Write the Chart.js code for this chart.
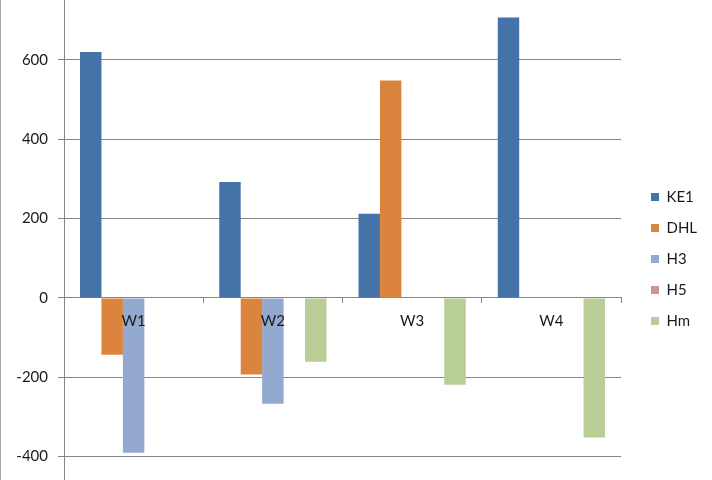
<!DOCTYPE html>
<html>
<head>
<meta charset="utf-8">
<script src="https://cdn.jsdelivr.net/npm/chart.js@4/dist/chart.umd.min.js"></script>
<style>
  html, body { margin: 0; padding: 0; background: #fff; }
  #wrap { width: 712px; height: 480px; position: relative; }
</style>
</head>
<body>
<div id="wrap"><canvas id="weeksChart"></canvas></div>
<script>
// Data
const weeks = ['W1', 'W2', 'W3', 'W4'];
const ke1 = [620, 292, 212, 707];
const dhl = [-143, -193, 548, 0];
const h3 = [-390, -267, 0, 0];
const h5 = [0, 0, 0, 0];
const hm = [0, -161, -219, -352];
const yTicks = [-400, -200, 0, 200, 400, 600];

const gridGrey = '#868686';
const fontFamily = "Lato, 'Open Sans', sans-serif";

// thin grey frame line on the left edge
const frameLine = {
    id: 'frameLine',
    afterDraw(chart) {
        const ctx = chart.ctx;
        ctx.save();
        ctx.fillStyle = '#a6a6a6';
        ctx.fillRect(0, 0, 1, chart.height);
        ctx.restore();
    }
};

// legend: fixed width, then nudge it where Excel put it
const legendPlace = {
    id: 'legendPlace',
    beforeLayout(chart) {
        const lg = chart.legend;
        if (lg && !lg._fixedFit) {
            const fit = lg.fit.bind(lg);
            lg.fit = function() { fit(); this.width = 91; };
            lg._fixedFit = true;
        }
    },
    afterLayout(chart) {
        const lg = chart.legend;
        lg.left += 14;
        lg.right += 14;
        lg.top += 19;
        lg.bottom += 19;
    }
};

const ctx = document.getElementById('weeksChart').getContext('2d');
const weeksChart = new Chart(ctx, {
    type: 'bar',
    data: {
        labels: weeks,
        datasets: [
            { label: 'KE1', data: ke1, backgroundColor: '#4572A7' },
            { label: 'DHL', data: dhl, backgroundColor: '#DB843D' },
            { label: 'H3', data: h3, backgroundColor: '#93A9CF' },
            { label: 'H5', data: h5, backgroundColor: '#D19392' },
            { label: 'Hm', data: hm, backgroundColor: '#B9CD96' }
        ]
    },
    options: {
        responsive: true,
        maintainAspectRatio: false,
        animation: false,
        layout: { padding: 0 },
        datasets: {
            bar: { categoryPercentage: 0.77, barPercentage: 1, borderWidth: 0 }
        },
        plugins: {
            legend: {
                position: 'right',
                align: 'center',
                labels: {
                    boxWidth: 8,
                    boxHeight: 8,
                    padding: 16,
                    color: '#1a1a1a',
                    font: { family: fontFamily, size: 15 }
                }
            },
            tooltip: { enabled: false }
        },
        scales: {
            x: {
                position: { y: 0 },
                grid: {
                    offset: true,
                    drawOnChartArea: false,
                    drawTicks: true,
                    tickLength: 5,
                    color: gridGrey
                },
                border: { display: true, color: gridGrey, width: 1 },
                ticks: {
                    z: 1, // category labels sit on top of the bars, like Excel
                    padding: 9,
                    color: '#1a1a1a',
                    font: { family: fontFamily, size: 15 }
                },
                afterFit(scale) {
                    scale.paddingLeft = 0;
                    scale.paddingRight = 0;
                }
            },
            y: {
                min: -459,
                max: 751,
                grid: { color: gridGrey, tickLength: 6 },
                border: { display: true, color: gridGrey, width: 1 },
                ticks: {
                    padding: 10,
                    color: '#1a1a1a',
                    font: { family: fontFamily, size: 15 }
                },
                afterBuildTicks(scale) {
                    scale.ticks = yTicks.map(v => ({ value: v }));
                },
                afterFit(scale) {
                    scale.width = 64;
                    scale.paddingTop = 0;
                    scale.paddingBottom = 0;
                }
            }
        }
    },
    plugins: [frameLine, legendPlace]
});
</script>
</body>
</html>
